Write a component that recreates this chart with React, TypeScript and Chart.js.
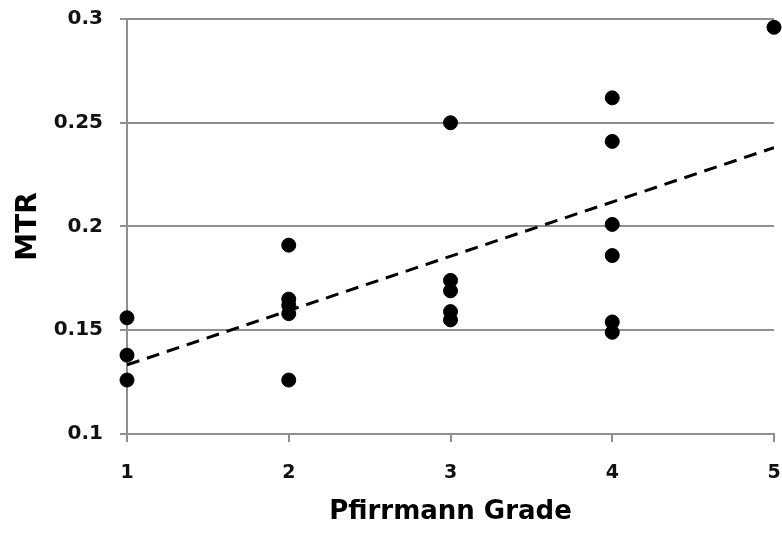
import React, { useEffect, useRef } from "react";
import { Chart, registerables } from "chart.js";

Chart.register(...registerables);

const gradeX: number[] = [1, 1, 1, 2, 2, 2, 2, 2, 3, 3, 3, 3, 3, 4, 4, 4, 4, 4, 4, 5];
const mtrY: number[] = [
  0.156, 0.138, 0.126,
  0.191, 0.165, 0.162, 0.158, 0.126,
  0.25, 0.174, 0.169, 0.159, 0.155,
  0.262, 0.241, 0.201, 0.186, 0.154, 0.149,
  0.296,
];
const trendX: number[] = [1, 5];
const trendY: number[] = [0.1333, 0.238];
const yTickValues: number[] = [0.1, 0.15, 0.2, 0.25, 0.3];
const xTickValues: number[] = [1, 2, 3, 4, 5];
const xTitle = "Pfirrmann Grade";
const yTitle = "MTR";

const zeroPad = (s: any) => {
  s.paddingLeft = 0;
  s.paddingRight = 0;
  s.paddingTop = 0;
  s.paddingBottom = 0;
};

export default function App() {
  const ref = useRef<HTMLCanvasElement | null>(null);
  useEffect(() => {
    document.body.style.margin = "0";
    const canvas = ref.current!;
    const grey = "#8f8f8f";
    const font = "'DejaVu Sans', sans-serif";
    const chart = new Chart(canvas, {
      type: "scatter",
      data: {
        datasets: [
          {
            type: "scatter",
            data: gradeX.map((x, i) => ({ x, y: mtrY[i] })),
            backgroundColor: "#000",
            borderColor: "#000",
            pointRadius: 7,
            clip: false,
          },
          {
            type: "line",
            data: trendX.map((x, i) => ({ x, y: trendY[i] })),
            borderColor: "#000",
            borderWidth: 3,
            borderDash: [13, 8],
            pointRadius: 0,
            fill: false,
          },
        ],
      },
      options: {
        animation: false,
        responsive: false,
        layout: { autoPadding: false, padding: { left: 0, right: 8, top: 19, bottom: 0 } },
        plugins: { legend: { display: false }, tooltip: { enabled: false } },
        scales: {
          x: {
            type: "linear",
            min: 1,
            max: 5,
            afterBuildTicks: (s: any) => {
              s.ticks = xTickValues.map((v) => ({ value: v }));
            },
            afterFit: (s: any) => {
              s.height = 101;
              zeroPad(s);
            },
            ticks: {
              padding: 20,
              color: "#111",
              font: { family: font, size: 19, weight: "bold" },
              callback: (v: any) => String(v),
            },
            grid: {
              drawOnChartArea: false,
              drawTicks: true,
              tickLength: 8,
              color: grey,
              lineWidth: 2,
            },
            border: { color: grey, width: 2 },
            title: {
              display: true,
              text: xTitle,
              color: "#000",
              font: { family: font, size: 26, weight: "bold" },
              padding: { top: 4, bottom: 7 },
            },
          },
          y: {
            type: "linear",
            min: 0.1,
            max: 0.3,
            afterBuildTicks: (s: any) => {
              s.ticks = yTickValues.map((v) => ({ value: v }));
            },
            afterFit: (s: any) => {
              s.width = 127;
              zeroPad(s);
            },
            ticks: {
              padding: 17,
              color: "#111",
              font: { family: font, size: 20, weight: "bold" },
              callback: (v: any) => String(Math.round(Number(v) * 100) / 100),
            },
            grid: {
              drawTicks: true,
              tickLength: 7,
              color: grey,
              lineWidth: 2,
            },
            border: { color: grey, width: 2 },
            title: {
              display: true,
              text: yTitle,
              color: "#000",
              font: { family: font, size: 28, weight: "bold" },
              padding: { top: 12, bottom: 4 },
            },
          },
        },
      },
    } as any);
    return () => chart.destroy();
  }, []);
  return (
    <div style={{ width: 782, height: 535, background: "#fff" }}>
      <canvas ref={ref} width={782} height={535} style={{ display: "block" }} />
    </div>
  );
}
